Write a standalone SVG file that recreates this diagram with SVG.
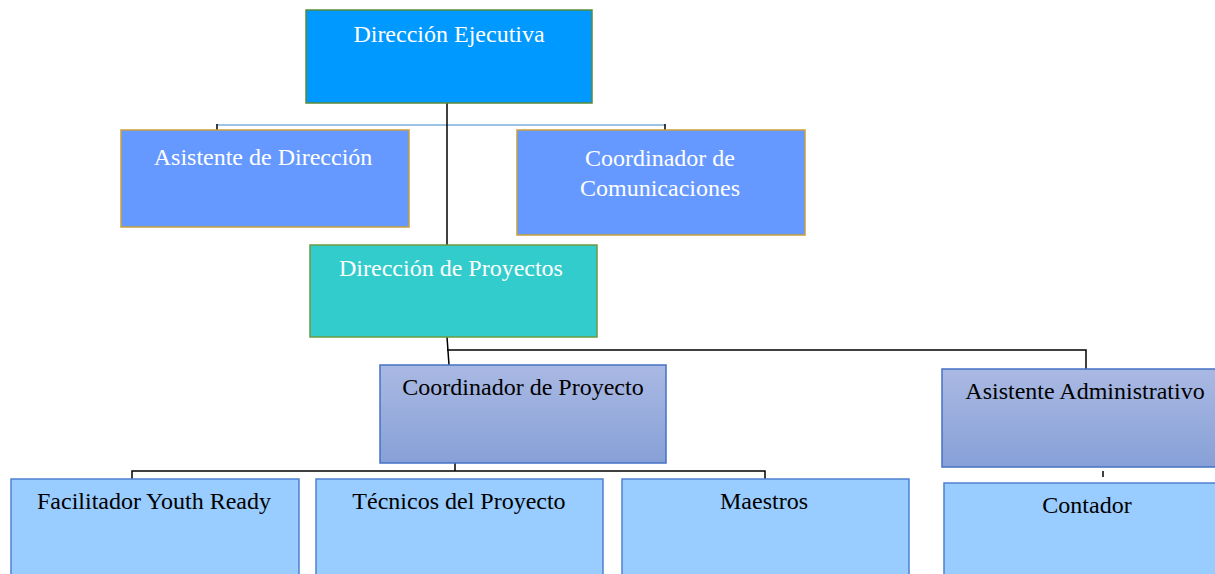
<svg xmlns="http://www.w3.org/2000/svg" width="1215" height="574" viewBox="0 0 1215 574">
<defs>
<linearGradient id="g1" x1="0" y1="0" x2="0" y2="1">
<stop offset="0" stop-color="#aab9e3"/>
<stop offset="1" stop-color="#87a0d7"/>
</linearGradient>
<style>
text{font-family:"Liberation Serif","Times New Roman",serif;font-size:24px;text-anchor:middle}
.w{fill:#ffffff}
.k{fill:#000000}
.c{stroke:#000;stroke-width:1.5;fill:none}
</style>
</defs>
<rect width="1215" height="574" fill="#ffffff"/>
<g id="connectors">
<line x1="217" y1="125" x2="665" y2="125" stroke="#9dc3e6" stroke-width="2"/>
<path class="c" d="M217 124V130M665 124V130"/>
<path class="c" d="M447 103V245"/>
<path class="c" d="M447 337L449 365M447 350H1086V370"/>
<path class="c" d="M455 463V471M132 479V471H765V479"/>
<path class="c" d="M1103 471V477"/>
</g>
<g id="n1"><rect x="306" y="10" width="286" height="93" fill="#0099ff" stroke="#5a8a3a" stroke-width="1.5"/><text class="w" x="449" y="42">Dirección Ejecutiva</text></g>
<g id="n2"><rect x="121" y="130" width="288" height="97" fill="#6699ff" stroke="#c9a03c" stroke-width="1.5"/><text class="w" x="263" y="165">Asistente de Dirección</text></g>
<g id="n3"><rect x="517" y="130" width="288" height="105" fill="#6699ff" stroke="#c9a03c" stroke-width="1.5"/><text class="w" x="660" y="166">Coordinador de</text><text class="w" x="660" y="196">Comunicaciones</text></g>
<g id="n4"><rect x="310" y="245" width="287" height="92" fill="#33cccc" stroke="#6a9a40" stroke-width="1.5"/><text class="w" x="451" y="276">Dirección de Proyectos</text></g>
<g id="n5"><rect x="380" y="365" width="286" height="98" fill="url(#g1)" stroke="#4472c4" stroke-width="1.5"/><text class="k" x="523" y="395">Coordinador de Proyecto</text></g>
<g id="n6"><rect x="942" y="369" width="280" height="98" fill="url(#g1)" stroke="#4472c4" stroke-width="1.5"/><text class="k" x="1085" y="399">Asistente Administrativo</text></g>
<g id="n7"><rect x="11" y="479" width="288" height="100" fill="#99ccff" stroke="#4f81d0" stroke-width="1.5"/><text class="k" x="154" y="509">Facilitador Youth Ready</text></g>
<g id="n8"><rect x="316" y="479" width="287" height="100" fill="#99ccff" stroke="#4f81d0" stroke-width="1.5"/><text class="k" x="459" y="509">Técnicos del Proyecto</text></g>
<g id="n9"><rect x="622" y="479" width="287" height="100" fill="#99ccff" stroke="#4f81d0" stroke-width="1.5"/><text class="k" x="764" y="509">Maestros</text></g>
<g id="n10"><rect x="944" y="483" width="280" height="100" fill="#99ccff" stroke="#4f81d0" stroke-width="1.5"/><text class="k" x="1087" y="513">Contador</text></g>
</svg>
